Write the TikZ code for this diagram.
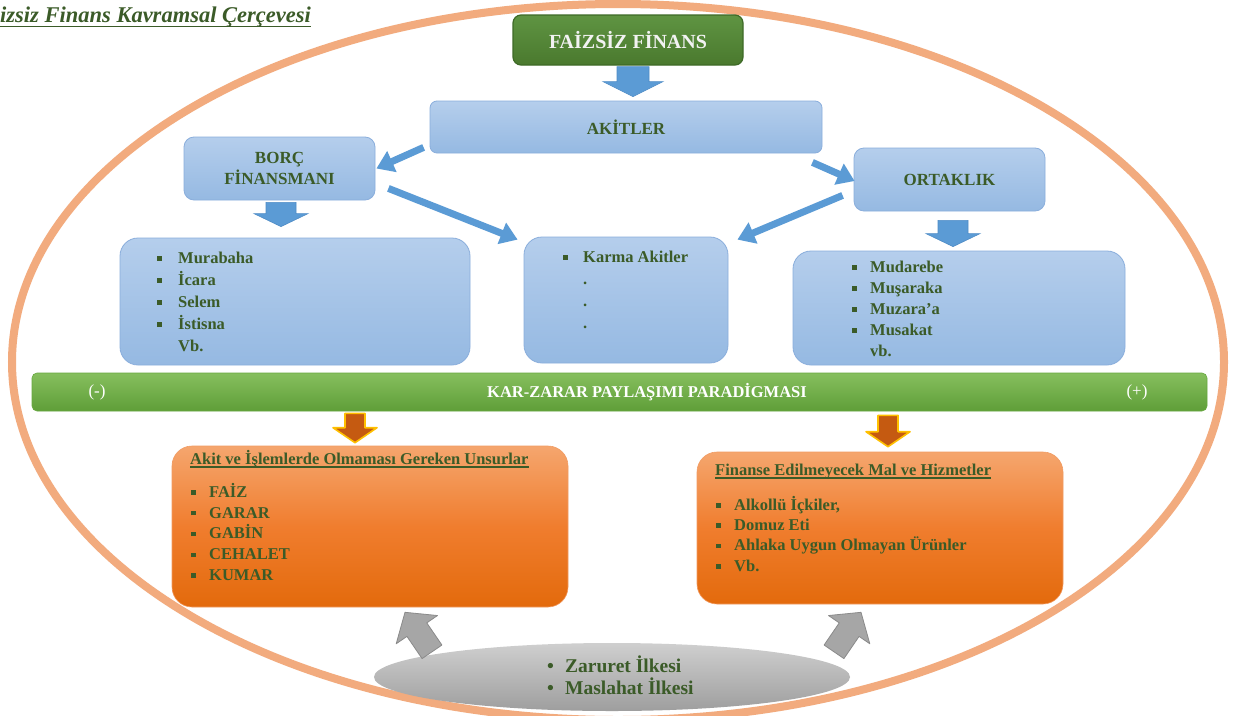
\documentclass[tikz,border=0pt]{standalone}
\usepackage{fontspec}
\setmainfont{Liberation Serif}
\usetikzlibrary{calc,arrows.meta,shapes.geometric}
\definecolor{gtxt}{HTML}{3B5B28}
\definecolor{btop}{HTML}{B5CEEC}
\definecolor{bbot}{HTML}{95B9E2}
\definecolor{bbord}{HTML}{8AAEDC}
\definecolor{barr}{HTML}{5B9BD5}
\definecolor{barrd}{HTML}{4F8CC6}
\definecolor{gtop}{HTML}{5F9442}
\definecolor{gbot}{HTML}{4A792E}
\definecolor{gbord}{HTML}{3E6A27}
\definecolor{bartop}{HTML}{86BF5E}
\definecolor{barbot}{HTML}{5F9E38}
\definecolor{barbord}{HTML}{67A83F}
\definecolor{otop}{HTML}{F5A66E}
\definecolor{omid}{HTML}{F07D2E}
\definecolor{obot}{HTML}{E36A0C}
\definecolor{oborder}{HTML}{F19B62}
\definecolor{oarr}{HTML}{C55A11}
\definecolor{oglow}{HTML}{FFC000}
\definecolor{garr}{HTML}{A6A6A6}
\definecolor{garrd}{HTML}{8A8A8A}
\definecolor{getop}{HTML}{CFCFCF}
\definecolor{gebot}{HTML}{9E9E9E}
\definecolor{ring}{HTML}{F2AB7E}
\newcommand{\sqb}{\rule[2.6pt]{4.5pt}{4.5pt}}
\newcommand{\fst}[1]{\rule{0pt}{#1}}
\newcommand{\itm}[2]{\makebox[#1][l]{\sqb}#2}
\newcommand{\nitm}[2]{\makebox[#1][l]{}#2}
\newcommand{\dotitm}[2]{\makebox[#1][l]{\textbullet}#2}
% block arrow: style, base coordinate, tip coordinate, shaft half width, head half width, head length
\newcommand{\blockarr}[6]{%
  \coordinate (bahs) at ($(#3)!#6!(#2)$);
  \filldraw[#1] ($(#2)!#4!90:(#3)$) -- ($(bahs)!#4!90:(#3)$) -- ($(bahs)!#5!90:(#3)$) -- (#3) -- ($(bahs)!#5!-90:(#3)$) -- ($(bahs)!#4!-90:(#3)$) -- ($(#2)!#4!-90:(#3)$) -- cycle;}
\begin{document}
\begin{tikzpicture}[x=1pt,y=-1pt,
  bluebox/.style={draw=bbord, line width=0.8pt, top color=btop, bottom color=bbot, rounded corners=#1, inner sep=0pt},
  bluebox/.default=10pt,
  head/.style={text=gtxt, font=\fontsize{17}{21}\selectfont\bfseries, align=center},
  orbox/.style={top color=otop, bottom color=obot, middle color=omid, rounded corners=20pt, inner sep=0pt, draw=oborder, line width=0.6pt},
  listtext/.style={anchor=north west, inner sep=0pt, align=left, text=gtxt},
  bluearrow/.style={draw=barr, line width=7pt, -{Triangle[length=17pt,width=22pt]}},
  bblock/.style={fill=barr, draw=barrd, line width=0.6pt},
  oblock/.style={fill=oarr, draw=oglow, line width=1.6pt, line join=round},
  gblock/.style={fill=garr, draw=garrd, line width=0.8pt, line join=round},
  uline/.style={draw=gtxt, line width=1.1pt},
]
\useasboundingbox (0,0) rectangle (1233,715);
\fill[white] (0,0) rectangle (1233,715);

% big ring
\draw[ring, line width=8pt] (618,362) ellipse [x radius=606pt, y radius=358pt];

% title
\node[anchor=base west, inner sep=0pt, text=gtxt, font=\fontsize{22.5}{26}\selectfont\bfseries\itshape] (title) at (0,22) {izsiz Finans Kavramsal Çerçevesi};
\draw[uline, line width=1.3pt] ($(title.base west)+(0,4.5)$) -- ($(title.base east)+(0,4.5)$);

% top boxes
\node[top color=gtop, bottom color=gbot, draw=gbord, line width=1.2pt, rounded corners=8pt,
      minimum width=230pt, minimum height=50pt, inner sep=0pt,
      text=white!95!black, font=\fontsize{20}{24}\selectfont\bfseries] (fin) at (628,40) {FAİZSİZ FİNANS};
\node[bluebox=7pt, minimum width=392pt, minimum height=52pt, head] (ak) at (626,127) {AKİTLER};
\node[bluebox=10pt, minimum width=191pt, minimum height=63pt, head] (bor) at (279.5,168.5) {BORÇ\\FİNANSMANI};
\node[bluebox=10pt, minimum width=191pt, minimum height=63pt, head] (ort) at (949.5,179.5) {ORTAKLIK};

% list boxes
\node[bluebox=18pt, minimum width=350pt, minimum height=127pt] (lb) at (295,301.5) {};
\node[bluebox=18pt, minimum width=204pt, minimum height=126pt] (mb) at (626,300) {};
\node[bluebox=18pt, minimum width=332pt, minimum height=114pt] (rb) at (959,308) {};

\node[listtext, font=\fontsize{16.5}{22}\selectfont\bfseries] (lbt) at (157,247)
  {\fst{16pt}\itm{21pt}{Murabaha}\\\itm{21pt}{İcara}\\\itm{21pt}{Selem}\\\itm{21pt}{İstisna}\\\nitm{21pt}{Vb.}};
\node[listtext, font=\fontsize{16.5}{22}\selectfont\bfseries] (mbt) at (563,246)
  {\fst{16pt}\itm{20pt}{Karma Akitler}\\\nitm{20pt}{.}\\\nitm{20pt}{.}\\\nitm{20pt}{.}};
\node[listtext, font=\fontsize{16.5}{21}\selectfont\bfseries] (rbt) at (852,256)
  {\fst{16pt}\itm{18pt}{Mudarebe}\\\itm{18pt}{Muşaraka}\\\itm{18pt}{Muzara’a}\\\itm{18pt}{Musakat}\\\nitm{18pt}{vb.}};

% green bar
\node[top color=bartop, bottom color=barbot, draw=barbord, line width=0.6pt, rounded corners=5pt,
      minimum width=1175pt, minimum height=38pt, inner sep=0pt] (bar) at (619.5,392) {};
\node[text=white, font=\fontsize{16.5}{20}\selectfont\bfseries, inner sep=0pt] (bart) at (647,392) {KAR-ZARAR PAYLAŞIMI PARADİGMASI};
\node[text=white, font=\fontsize{17}{20}\selectfont, inner sep=0pt] (minus) at (97,392) {(-)};
\node[text=white, font=\fontsize{17}{20}\selectfont, inner sep=0pt] (plus) at (1137,392) {(+)};

% orange boxes
\node[orbox, minimum width=396pt, minimum height=161pt] (ob1) at (370,526.5) {};
\node[orbox, minimum width=366pt, minimum height=152pt] (ob2) at (880,528) {};

\node[anchor=base west, inner sep=0pt, text=gtxt, font=\fontsize{16.5}{20}\selectfont\bfseries] (o1t) at (190,464) {Akit ve İşlemlerde Olmaması Gereken Unsurlar};
\draw[uline] ($(o1t.base west)+(0,3)$) -- ($(o1t.base east)+(0,3)$);
\node[listtext, font=\fontsize{16.5}{20.8}\selectfont\bfseries] (o1l) at (191,481)
  {\fst{16pt}\itm{18pt}{FAİZ}\\\itm{18pt}{GARAR}\\\itm{18pt}{GABİN}\\\itm{18pt}{CEHALET}\\\itm{18pt}{KUMAR}};

\node[anchor=base west, inner sep=0pt, text=gtxt, font=\fontsize{16.5}{20}\selectfont\bfseries] (o2t) at (715,475) {Finanse Edilmeyecek Mal ve Hizmetler};
\draw[uline] ($(o2t.base west)+(0,3)$) -- ($(o2t.base east)+(0,3)$);
\node[listtext, font=\fontsize{16.5}{20.3}\selectfont\bfseries] (o2l) at (716,494)
  {\fst{16pt}\itm{18pt}{Alkollü İçkiler,}\\\itm{18pt}{Domuz Eti}\\\itm{18pt}{Ahlaka Uygun Olmayan Ürünler}\\\itm{18pt}{Vb.}};

% gray ellipse
\node[ellipse, top color=getop, bottom color=gebot, draw=none, minimum width=476pt, minimum height=68pt, inner sep=0pt] (ge) at (612,677) {};
\node[listtext, font=\fontsize{19.5}{22}\selectfont\bfseries] (gel) at (547,654)
  {\fst{18pt}\dotitm{18pt}{Zaruret İlkesi}\\\dotitm{18pt}{Maslahat İlkesi}};

% blue connectors
\coordinate (a1s) at ($(ak.south west)+(-6,-6)$);
\coordinate (a1e) at ($(bor.east)+(1,0)$);
\coordinate (a2s) at ($(ak.south east)+(-10,9)$);
\coordinate (a2e) at ($(ort.west)+(1,1.5)$);
\coordinate (a3s) at ($(bor.south east)+(13,-12)$);
\coordinate (a3e) at ($(mb.north west)+(-6,3)$);
\coordinate (a4s) at ($(ort.south west)+(-11,-16)$);
\coordinate (a4e) at ($(mb.north east)+(9,3)$);
\draw[bluearrow] (a1s) -- (a1e);
\draw[bluearrow] (a2s) -- (a2e);
\draw[bluearrow] (a3s) -- (a3e);
\draw[bluearrow] (a4s) -- (a4e);

% block arrows
\coordinate (f1b) at ($(fin.south)+(5,1)$);
\coordinate (f1t) at ($(ak.north)+(7,-4)$);
\blockarr{bblock}{f1b}{f1t}{16pt}{30pt}{15pt}
\coordinate (b1b) at ($(bor.south)+(1.5,2)$);
\coordinate (b1t) at ($(lb.north)+(-14,-11)$);
\blockarr{bblock}{b1b}{b1t}{15pt}{27pt}{13pt}
\coordinate (r1b) at ($(ort.south)+(3.5,9)$);
\coordinate (r1t) at ($(rb.north)+(-6,-4)$);
\blockarr{bblock}{r1b}{r1t}{15pt}{27pt}{13pt}

\coordinate (o1b) at ($(bar.south)+(-264.5,2)$);
\coordinate (o1e) at ($(ob1.north)+(-15,-3)$);
\blockarr{oblock}{o1b}{o1e}{10pt}{22pt}{15pt}
\coordinate (o2b) at ($(bar.south)+(268.5,4)$);
\coordinate (o2e) at ($(ob2.north)+(8,-5)$);
\blockarr{oblock}{o2b}{o2e}{10pt}{22pt}{15pt}

\coordinate (g1b) at ($(ge.north)+(-180,9)$);
\coordinate (g1t) at ($(ob1.south)+(35,5)$);
\blockarr{gblock}{g1b}{g1t}{12pt}{25pt}{21pt}
\coordinate (g2b) at ($(ge.north)+(222,9)$);
\coordinate (g2t) at ($(ob2.south)+(-19,8)$);
\blockarr{gblock}{g2b}{g2t}{12pt}{25pt}{21pt}
\end{tikzpicture}
\end{document}
